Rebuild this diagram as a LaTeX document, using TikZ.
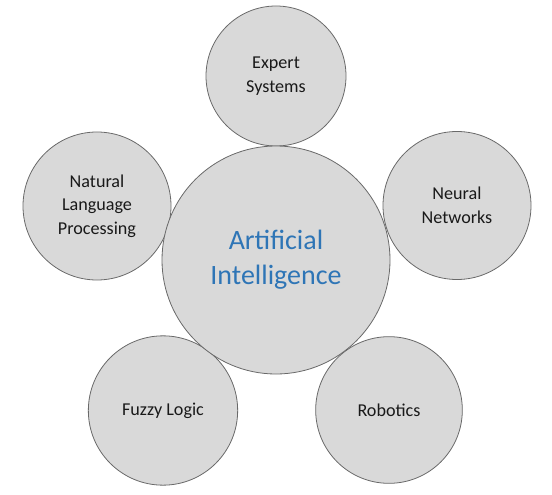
\documentclass[tikz,border=0pt]{standalone}
\usepackage{fontspec}
\setmainfont{Carlito}
\usepackage{xcolor}
\definecolor{bubblefill}{RGB}{217,217,217}
\definecolor{bubbleline}{RGB}{105,105,105}
\definecolor{aiblue}{RGB}{46,117,182}
\tikzset{
  bubble/.style={circle, draw=bubbleline, fill=bubblefill, line width=0.6pt, inner sep=0pt, align=center, text=black!90,
    font=\fontsize{13.6}{17.6}\selectfont},
  mainbubble/.style={bubble, text=aiblue, font=\fontsize{21}{26.25}\selectfont}
}

\begin{document}
\begin{tikzpicture}[x=0.75pt,y=0.75pt,yscale=-1,xscale=1]
        \useasboundingbox (0,0) rectangle (552,495); %set diagram to 552 x 495
        %Shape: Circle [id:expert] 
        \node [bubble, minimum size=105pt] (expert) at (276,76) {Expert\\Systems};
        %Shape: Circle [id:nlp] 
        \node [bubble, minimum size=111pt] (nlp) at (97,206) {Natural\\Language\\Processing};
        %Shape: Circle [id:neural] 
        \node [bubble, minimum size=111pt] (neural) at (457,205.5) {Neural\\Networks};
        %Shape: Circle [id:fuzzy] 
        \node [bubble, minimum size=112pt] (fuzzy) at (163,410.5) {Fuzzy Logic};
        %Shape: Circle [id:robotics] 
        \node [bubble, minimum size=110pt] (robotics) at (389,410) {Robotics};
        %Shape: Circle [id:ai] 
        \node [mainbubble, minimum size=171pt] (ai) at (276,260) {Artificial\\Intelligence};
\end{tikzpicture}
\end{document}
